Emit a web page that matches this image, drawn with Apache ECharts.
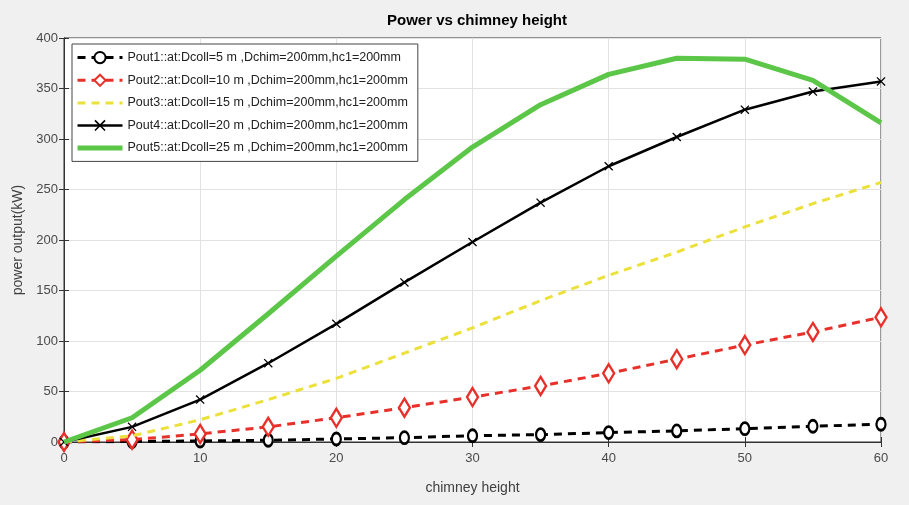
<!DOCTYPE html>
<html>
<head>
<meta charset="utf-8">
<script src="https://cdn.jsdelivr.net/npm/echarts@6/dist/echarts.min.js"></script>
<style>
html,body{margin:0;padding:0;background:#f0f0f0;}
#c{width:909px;height:505px;}
</style>
</head>
<body>
<div id="c"></div>
<script>
const heights = [0, 5, 10, 15, 20, 25, 30, 35, 40, 45, 50, 55, 60];
const pout1 = [0, 0.5, 1, 1.7, 3, 4.3, 6.2, 7.3, 9.3, 11, 13.2, 15.6, 17.6];
const pout2 = [0, 2.3, 8, 15, 24, 34, 44.5, 55.5, 68, 82, 96, 109, 123.5];
const pout3 = [0, 6, 22, 42, 63, 88, 113, 140, 165, 188, 213, 236, 257];
const pout4 = [0, 15, 42, 78, 117, 158, 198, 237, 273, 302, 329, 347, 357];
const pout5 = [0, 24, 71, 127, 184, 240, 292, 334, 364, 380, 379, 358, 316];
const names = [
  'Pout1::at:Dcoll=5 m ,Dchim=200mm,hc1=200mm',
  'Pout2::at:Dcoll=10 m ,Dchim=200mm,hc1=200mm',
  'Pout3::at:Dcoll=15 m ,Dchim=200mm,hc1=200mm',
  'Pout4::at:Dcoll=20 m ,Dchim=200mm,hc1=200mm',
  'Pout5::at:Dcoll=25 m ,Dchim=200mm,hc1=200mm'
];
const pairs = arr => heights.map((h, i) => [h, arr[i]]);
const xMark = 'path://M0,1L1,0L5,4L9,0L10,1L6,5L10,9L9,10L5,6L1,10L0,9L4,5Z';
const font = 'Liberation Sans, Arial, sans-serif';
const chart = echarts.init(document.getElementById('c'));
chart.setOption({
  backgroundColor: '#f0f0f0',
  animation: false,
  title: {
    text: 'Power vs chimney height',
    left: 472, top: 8, textAlign: 'center',
    textStyle: {fontFamily: font, fontSize: 15, fontWeight: 'bold', color: '#000'}
  },
  grid: {left: 64, right: 28, top: 38, bottom: 63, show: true, backgroundColor: '#fff', borderColor: '#333', borderWidth: 1},
  legend: {
    orient: 'vertical', left: 72, top: 44,
    itemWidth: 45, itemHeight: 14, itemGap: 9.5,
    backgroundColor: '#fff', borderColor: '#444', borderWidth: 1,
    padding: [7, 10, 7, 3],
    textStyle: {fontFamily: font, fontSize: 12.5, color: '#222'},
    data: [
      {name: names[0], lineStyle: {width: 3, type: [8, 6]}},
      {name: names[1], lineStyle: {width: 3, type: [8, 6]}},
      {name: names[2], itemStyle: {opacity: 0}, lineStyle: {width: 3, type: [8, 6]}},
      {name: names[3], lineStyle: {width: 2.5}},
      {name: names[4], itemStyle: {opacity: 0}, lineStyle: {width: 5}}
    ]
  },
  xAxis: [{
    type: 'value', min: 0, max: 60, interval: 10,
    name: 'chimney height', nameLocation: 'middle', nameGap: 39,
    nameTextStyle: {fontFamily: font, fontSize: 14, color: '#404040'},
    axisLine: {lineStyle: {color: '#333'}},
    axisTick: {inside: true, length: 5, lineStyle: {color: '#333'}},
    axisLabel: {fontFamily: font, fontSize: 13, color: '#4a4a4a', margin: 10},
    splitLine: {show: true, lineStyle: {color: '#e2e2e2'}}
  }, {
    type: 'value', min: 0, max: 60, interval: 10, position: 'top',
    axisLine: {show: true, lineStyle: {color: '#333'}},
    axisTick: {show: true, inside: true, length: 5, lineStyle: {color: '#333'}},
    axisLabel: {show: false}, splitLine: {show: false}
  }],
  yAxis: [{
    type: 'value', min: 0, max: 400, interval: 50,
    name: 'power output(kW)', nameLocation: 'middle', nameGap: 38,
    nameTextStyle: {fontFamily: font, fontSize: 14, color: '#404040'},
    axisLine: {show: true, lineStyle: {color: '#333'}},
    axisTick: {show: true, inside: true, length: 5, lineStyle: {color: '#333'}},
    axisLabel: {fontFamily: font, fontSize: 13, color: '#4a4a4a', margin: 6},
    splitLine: {show: true, lineStyle: {color: '#e2e2e2'}}
  }, {
    type: 'value', min: 0, max: 400, interval: 50, position: 'right',
    axisLine: {show: true, lineStyle: {color: '#333'}},
    axisTick: {show: true, inside: true, length: 5, lineStyle: {color: '#333'}},
    axisLabel: {show: false}, splitLine: {show: false}
  }],
  series: [
    {
      name: names[0], type: 'line', data: pairs(pout1),
      lineStyle: {color: '#000', width: 3, type: [8, 6]},
      symbol: 'circle', symbolSize: [9, 12],
      itemStyle: {color: '#fff', borderColor: '#000', borderWidth: 2.5},
      z: 2
    },
    {
      name: names[1], type: 'line', data: pairs(pout2),
      lineStyle: {color: '#e8302a', width: 3, type: [8, 6]},
      symbol: 'diamond', symbolSize: [11, 18],
      itemStyle: {color: '#fff', borderColor: '#e8302a', borderWidth: 2.5},
      z: 3
    },
    {
      name: names[2], type: 'line', data: pairs(pout3),
      lineStyle: {color: '#ebe13a', width: 3, type: [8, 6]},
      symbol: 'none', showSymbol: false,
      itemStyle: {color: '#ebe13a'},
      z: 4
    },
    {
      name: names[3], type: 'line', data: pairs(pout4),
      lineStyle: {color: '#000', width: 2.5},
      symbol: xMark, symbolSize: 9,
      itemStyle: {color: '#000'},
      z: 5
    },
    {
      name: names[4], type: 'line', data: pairs(pout5),
      lineStyle: {color: '#5cc648', width: 5},
      symbol: 'none', showSymbol: false,
      itemStyle: {color: '#5cc648'},
      z: 6
    }
  ]
});
</script>
</body>
</html>
